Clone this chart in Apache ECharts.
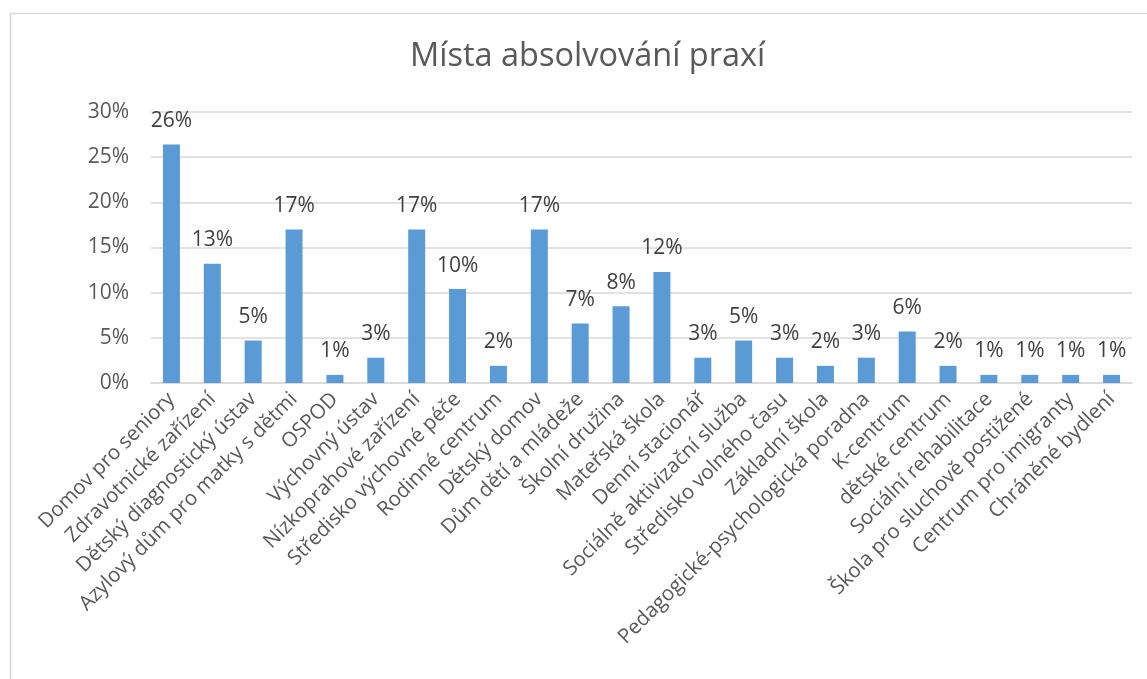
<!DOCTYPE html>
<html lang="cs">
<head>
    <meta charset="UTF-8">
    <title>Místa absolvování praxí</title>
    <script src="https://cdn.jsdelivr.net/npm/echarts@6/dist/echarts.min.js"></script>
    <style>
        html, body { margin: 0; padding: 0; background: #fff; }
        #chart { width: 1147px; height: 679px; }
    </style>
</head>
<body>
<div id="chart"></div>
<script>
    // kategorie (místa praxe)
    var categories = [
        'Domov pro seniory', 'Zdravotnické zařízení', 'Dětský diagnostický ústav',
        'Azylový dům pro matky s dětmi', 'OSPOD', 'Výchovný ústav', 'Nízkoprahové zařízení',
        'Středisko výchovné péče', 'Rodinné centrum', 'Dětský domov', 'Dům dětí a mládeže',
        'Školní družina', 'Mateřská škola', 'Denní stacionář', 'Sociálně aktivizační služba',
        'Středisko volného času', 'Základní škola', 'Pedagogické-psychologická poradna',
        'K-centrum', 'dětské centrum', 'Sociální rehabilitace', 'Škola pro sluchově postižené',
        'Centrum pro imigranty', 'Chráněné bydlení'
    ];
    // podíl v procentech
    var values = [
        26.4, 13.2, 4.7, 17.0, 0.9, 2.8, 17.0, 10.4, 1.9, 17.0, 6.6, 8.49,
        12.3, 2.8, 4.7, 2.8, 1.9, 2.8, 5.7, 1.9, 0.9, 0.9, 0.9, 0.9
    ];
    var yTicks = [0, 5, 10, 15, 20, 25, 30];

    var font = 'Open Sans';
    var grey = '#595959';

    var myChart = echarts.init(document.getElementById('chart'));
    var option = {
        animation: false,
        title: {
            text: 'Místa absolvování praxí',
            left: 405,
            top: 35,
            textStyle: { fontFamily: font, fontSize: 32.5, fontWeight: 'normal', color: grey }
        },
        graphic: [{
            type: 'rect',
            shape: { x: 10.5, y: 13.5, width: 1200, height: 800 },
            style: { fill: 'none', stroke: '#d9d9d9', lineWidth: 1.5 },
            silent: true
        }],
        grid: { left: 151, right: 15, top: 112, bottom: 296 },
        xAxis: {
            type: 'category',
            data: categories,
            axisLine: { lineStyle: { color: '#d9d9d9', width: 1.5 } },
            axisTick: { show: false },
            axisLabel: {
                interval: 0,
                rotate: 45,
                margin: 13,
                fontFamily: font,
                fontSize: 20.5,
                color: grey
            }
        },
        yAxis: {
            type: 'value',
            min: yTicks[0],
            max: yTicks[yTicks.length - 1],
            interval: 5,
            axisLine: { show: false },
            axisTick: { show: false },
            splitLine: { lineStyle: { color: '#d9d9d9', width: 1.5 } },
            axisLabel: {
                margin: 22,
                fontFamily: font,
                fontSize: 21,
                color: grey,
                formatter: '{value}%'
            }
        },
        series: [{
            type: 'bar',
            data: values,
            barWidth: 17,
            itemStyle: { color: '#5b9bd5' },
            label: {
                show: true,
                position: 'top',
                distance: 13,
                fontFamily: font,
                fontSize: 21,
                color: '#404040',
                formatter: function (p) { return Math.round(p.value) + '%'; }
            }
        }]
    };
    myChart.setOption(option);
</script>
</body>
</html>
